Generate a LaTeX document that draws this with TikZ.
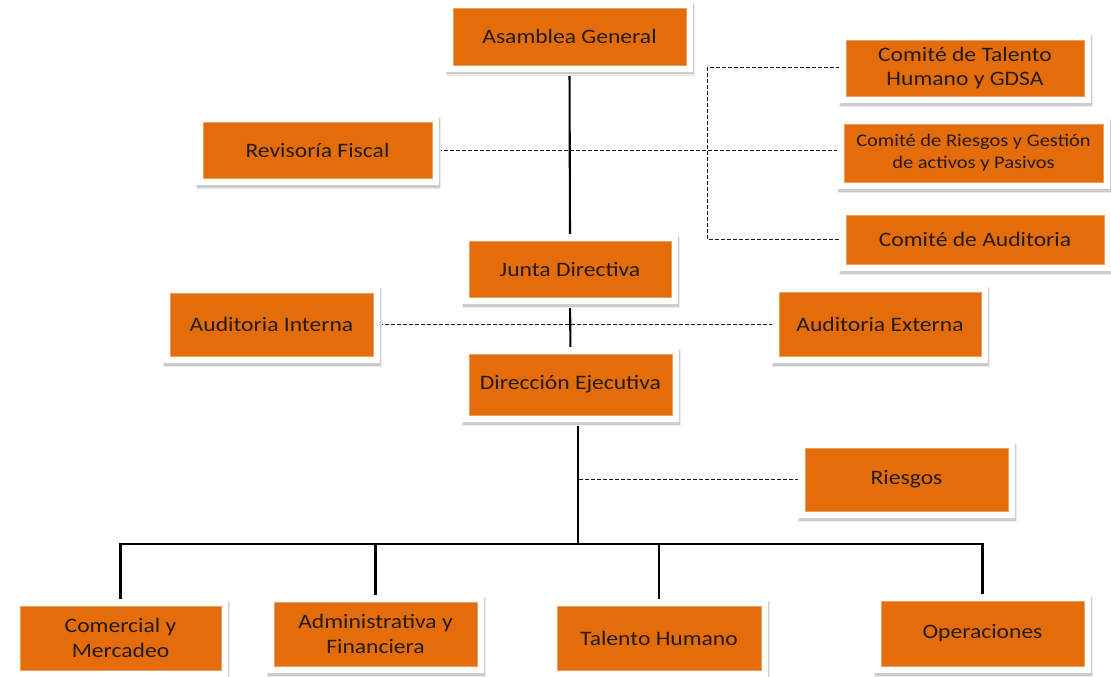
\documentclass[tikz,border=0pt]{standalone}
\usepackage{fontspec}
\setmainfont{Carlito}[FakeStretch=1.15]
\definecolor{orgc}{RGB}{228,108,10}
\definecolor{txtc}{RGB}{34,28,20}
\pgfdeclarelayer{bgfill}
\pgfdeclarelayer{lines}
\pgfdeclarelayer{frames}
\pgfsetlayers{bgfill,lines,frames,main}
\tikzset{
  obox/.style={rectangle, fill=orgc, draw=orgc!65!white, line width=0.6pt,
    align=center, text=txtc, inner sep=2pt, outer sep=0pt,
    font=\fontsize{20.5}{24.5}\selectfont},
  smalltext/.style={font=\fontsize{17.8}{22}\selectfont},
  frame/.style={fill=white},
  shadowhalo/.style={fill=black!8},
  shadowcore/.style={fill=black!20},
  solidline/.style={draw=black, line width=2.1pt},
  dashline/.style={draw=black!90, line width=1pt, dash pattern=on 4pt off 2pt}
}
\begin{document}
\begin{tikzpicture}[x=1pt, y=-1pt]
\begin{pgfonlayer}{bgfill}
\fill[white] (0,0) rectangle (1111,677);
\end{pgfonlayer}
\useasboundingbox (0,0) rectangle (1111,677);
% nodes
\node[obox, minimum width=233pt, minimum height=57pt] (asm) at (569.5,36.5) {Asamblea General};
\node[obox, minimum width=238pt, minimum height=56pt] (cth) at (965,68) {Comité de Talento\\Humano y GDSA};
\node[obox, smalltext, minimum width=259pt, minimum height=58pt] (crg) at (973.5,153) {Comité de Riesgos y Gestión\\de activos y Pasivos};
\node[obox, minimum width=258pt, minimum height=49pt] (cau) at (975,239.5) {Comité de Auditoria};
\node[obox, minimum width=229pt, minimum height=56pt] (rev) at (317.5,150) {Revisoría Fiscal};
\node[obox, minimum width=202pt, minimum height=56pt] (jun) at (570,269) {Junta Directiva};
\node[obox, minimum width=203pt, minimum height=63pt] (ain) at (271.5,324.5) {Auditoria Interna};
\node[obox, minimum width=202pt, minimum height=64pt] (aex) at (880,324) {Auditoria Externa};
\node[obox, minimum width=203pt, minimum height=61pt] (dir) at (570.5,384.5) {Dirección Ejecutiva};
\node[obox, minimum width=203pt, minimum height=63pt] (rie) at (906.5,479.5) {Riesgos};
\node[obox, minimum width=201pt, minimum height=64pt] (com) at (120.5,638) {Comercial y\\Mercadeo};
\node[obox, minimum width=203pt, minimum height=64pt] (adm) at (375.5,634) {Administrativa y\\Financiera};
\node[obox, minimum width=204pt, minimum height=64pt] (tal) at (659,638) {Talento Humano};
\node[obox, minimum width=203pt, minimum height=65pt] (ope) at (982.5,633.5) {Operaciones};
\coordinate (bus) at (578,544);
\coordinate (brk) at (707,0);
% white frames with soft shadow
\begin{pgfonlayer}{frames}
\foreach \n in {asm,cth,crg,cau,rev,jun,ain,aex,dir,rie,com,adm,tal,ope}{
  \path[shadowhalo] ([shift={(-7pt,5pt)}]\n.north west) rectangle ([shift={(8.5pt,-11pt)}]\n.south east);
  \path[shadowcore] ([shift={(-6.5pt,4pt)}]\n.north west) rectangle ([shift={(7.8pt,-9.5pt)}]\n.south east);
  \path[frame] ([shift={(-7pt,7pt)}]\n.north west) rectangle ([shift={(7pt,-7pt)}]\n.south east);
}
\end{pgfonlayer}
% connectors
\begin{pgfonlayer}{lines}
\draw[solidline] (asm.south) -- (jun.north);
\draw[solidline] (jun.south) -- (dir.north);
\draw[dashline] (rev.east) -- (rev.east -| crg.west);
\draw[dashline] (cth.west) -- (cth.west -| brk) -- (cau.west -| brk) -- (cau.west);
\draw[dashline] (ain.east) -- (ain.east -| aex.west);
\draw[solidline] (dir.south -| bus) -- (bus);
\draw[dashline] (rie.west) -- (rie.west -| bus);
\draw[solidline] (com.north) |- (bus) -| (ope.north);
\draw[solidline] (adm.north) -- (adm.north |- bus);
\draw[solidline] (tal.north) -- (tal.north |- bus);
\end{pgfonlayer}
\end{tikzpicture}
\end{document}
